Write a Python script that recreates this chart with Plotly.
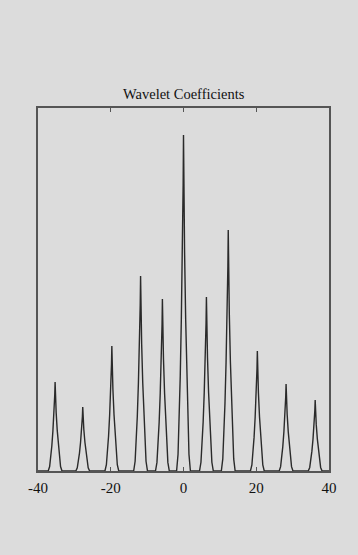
import plotly.graph_objects as go

# Peak centres (x) and relative amplitudes
peak_x = [-35.3, -27.7, -19.7, -11.8, -5.8, 0.0, 6.3, 12.3, 20.3, 28.2, 36.2]
peak_amp = [0.265, 0.19, 0.372, 0.58, 0.512, 1.0, 0.518, 0.717, 0.357, 0.259, 0.211]

# Shape of a single peak (offset in x, fraction of amplitude)
profile_dx = [-1.9, -1.5, -1.2, -0.9, -0.6, -0.3, -0.1, 0.0, 0.1, 0.3, 0.6, 0.9, 1.2, 1.5, 1.9]
profile_h = [0.0, 0.05, 0.14, 0.28, 0.45, 0.65, 0.85, 1.0, 0.85, 0.65, 0.45, 0.28, 0.14, 0.05, 0.0]

xs, ys = [-40.0], [0.0]
for cx, a in zip(peak_x, peak_amp):
    for dx, h in zip(profile_dx, profile_h):
        xs.append(cx + dx)
        ys.append(a * h)
xs.append(40.0)
ys.append(0.0)

fig = go.Figure()
fig.add_trace(go.Scatter(x=xs, y=ys, mode="lines",
                         line=dict(color="#2a2a2a", width=1.4),
                         hoverinfo="skip", showlegend=False))

bg = "#dcdcdc"
serif = "Liberation Serif, Times New Roman, serif"
fig.update_layout(
    width=358, height=555,
    paper_bgcolor=bg, plot_bgcolor=bg,
    margin=dict(l=38, r=29, t=108, b=84),
    font=dict(family=serif, size=15, color="#111111"),
    showlegend=False,
    annotations=[dict(text="Wavelet Coefficients", x=0.5, y=1.0, xref="paper", yref="paper",
                      xanchor="center", yanchor="bottom", yshift=4, showarrow=False,
                      font=dict(family=serif, size=14.5, color="#111111"))],
)
fig.update_xaxes(range=[-40, 40], tickvals=[-40, -20, 0, 20, 40],
                 ticktext=["-40", "-20", "0", "20", "40"],
                 showgrid=False, zeroline=False, showline=True, linecolor="#555555", linewidth=1.5,
                 mirror="ticks", ticks="inside", ticklen=4, tickcolor="#555555",
                 ticklabelstandoff=2)
fig.update_yaxes(range=[0, 1.08], showgrid=False, zeroline=False, showticklabels=False,
                 showline=True, linecolor="#555555", linewidth=1.5, mirror=True, ticks="")

fig.write_html("out.html", config={"displayModeBar": False},
               post_script="document.body.style.margin='0';document.body.style.background='#dcdcdc';")
